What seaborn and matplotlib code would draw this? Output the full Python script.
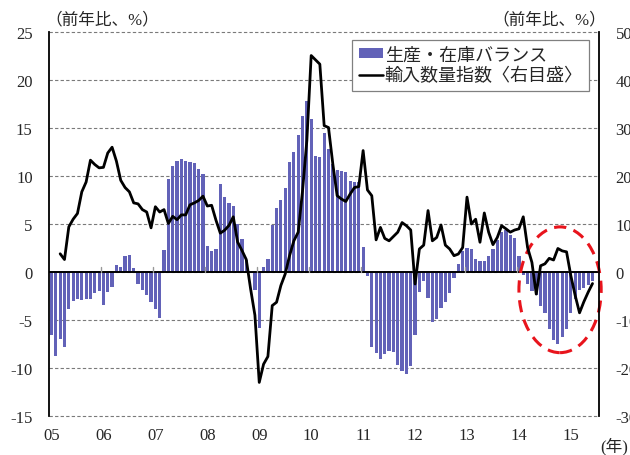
import numpy as np
import pandas as pd
import matplotlib
matplotlib.use("Agg")
import matplotlib.pyplot as plt
from matplotlib.patches import Patch, Ellipse
from matplotlib.lines import Line2D
import seaborn as sns

# ---------------- data ----------------
months = [f"{y}-{m:02d}" for y in range(2005, 2016) for m in range(1, 13)][:127]

balance = [
    -6.6, -8.75, -7.0, -7.8, -3.9, -3.0, -2.85, -2.9, -2.8, -2.8, -2.2, -2.0,      # 2005
    -3.45, -2.1, -1.6, 0.7, 0.5, 1.7, 1.8, 0.45, -1.2, -1.9, -2.4, -3.1,           # 2006
    -3.9, -4.75, 2.3, 9.7, 11.0, 11.6, 11.8, 11.6, 11.5, 11.4, 10.7, 10.2,          # 2007
    2.7, 2.2, 2.4, 9.2, 7.8, 7.2, 6.9, 5.0, 3.4, 1.3, 0.0, -1.9,                    # 2008
    -5.8, 0.5, 1.35, 4.9, 6.7, 7.5, 8.7, 11.5, 12.5, 14.3, 16.3, 17.8,              # 2009
    15.9, 12.1, 12.0, 14.5, 12.8, 11.3, 10.6, 10.5, 10.4, 9.5, 9.4, 9.4,            # 2010
    2.6, -0.4, -7.8, -8.4, -9.1, -8.5, -8.2, -8.3, -9.65, -10.35, -10.6, -9.8,      # 2011
    -6.6, -2.1, -0.9, -2.7, -5.2, -4.9, -3.75, -3.1, -2.2, -0.65, 0.8, 2.2,         # 2012
    2.5, 2.4, 1.4, 1.1, 1.1, 1.7, 2.4, 3.3, 4.2, 4.4, 3.9, 3.5,                     # 2013
    1.7, -0.3, -1.3, -2.0, -2.4, -3.5, -4.3, -5.9, -7.1, -7.5, -6.8, -5.9,          # 2014
    -4.3, -2.8, -1.9, -1.7, -1.4, -0.9, np.nan,                                     # 2015
]

imports = [
    np.nan, np.nan, 3.8, 2.6, 9.4, 11.0, 12.2, 16.7, 18.75, 23.3, 22.4, 21.7,      # 2005
    21.8, 24.8, 26.0, 23.1, 19.1, 17.6, 16.7, 14.4, 14.2, 13.0, 12.5, 9.2,          # 2006
    13.6, 12.5, 13.0, 10.1, 11.6, 10.9, 11.9, 11.9, 14.0, 14.4, 14.9, 15.8,         # 2007
    13.75, 13.9, 10.8, 8.1, 8.7, 9.7, 11.5, 6.25, 4.5, 2.6, -3.5, -9.0,             # 2008
    -23.0, -19.2, -17.6, -7.0, -6.3, -2.8, -0.4, 3.4, 6.5, 8.3, 16.9, 27.4,         # 2009
    45.1, 44.2, 43.3, 30.5, 30.1, 22.5, 15.9, 15.2, 14.7, 16.25, 17.6, 17.8,        # 2010
    25.3, 17.1, 15.9, 6.7, 9.3, 7.0, 6.5, 7.4, 8.3, 10.3, 9.65, 8.75,               # 2011
    -2.5, 4.8, 5.6, 12.8, 6.5, 7.2, 9.8, 5.6, 4.8, 3.4, 3.75, 5.1,                  # 2012
    15.6, 10.0, 11.0, 6.2, 12.3, 8.3, 5.7, 7.2, 9.65, 9.0, 8.3, 8.75,               # 2013
    9.0, 11.5, 5.1, 2.0, -4.6, 1.3, 1.7, 2.85, 2.5, 4.9, 4.4, 4.2,                  # 2014
    -0.8, -4.9, -8.5, -6.2, -4.2, -2.4, np.nan,                                     # 2015
]

year_labels = ["05", "06", "07", "08", "09", "10", "11", "12", "13", "14", "15"]
left_ticks = [-15, -10, -5, 0, 5, 10, 15, 20, 25]
right_ticks = [-30, -20, -10, 0, 10, 20, 30, 40, 50]

bar_name = "生産・在庫バランス"
line_name = "輸入数量指数〈右目盛〉"
unit_label = "（前年比、%）"

# ---------------- style ----------------
sns.set_style("white")
plt.rcParams["font.family"] = ["Liberation Serif", "Noto Sans CJK JP"]
plt.rcParams["axes.unicode_minus"] = False

BAR_COLOR = "#6262B8"
GRID_COLOR = "#7a7a7a"

fig = plt.figure(figsize=(6.3, 4.56), dpi=100)
ax = fig.add_axes([0.0783, 0.0855, 0.8725, 0.8421])

df = pd.DataFrame({"month": months, "balance": balance})
sns.barplot(data=df, x="month", y="balance", order=months, color=BAR_COLOR,
            saturation=1, width=0.74, errorbar=None, ax=ax, zorder=2,
            linewidth=0, edgecolor="none")

n = len(months)
ax.set_xlim(-0.5, n - 0.5)
ax.set_ylim(-15, 25)
ax.set_yticks(left_ticks)
ax.set_yticklabels([str(v) for v in left_ticks], fontsize=12)
ax.set_xticks(range(0, n, 12))
ax.set_xticklabels(year_labels, fontsize=12)
ax.tick_params(axis="y", length=0, pad=12)
ax.tick_params(axis="x", length=0, pad=8)
ax.set_xlabel("")
ax.set_ylabel("")

# grid
ax.yaxis.grid(True, color=GRID_COLOR, linestyle=(0, (3, 2)), linewidth=0.8, zorder=0)
ax.set_axisbelow(True)
for gl in ax.get_ygridlines():
    gl.set_clip_on(False)
ax.axhline(0, color="black", linewidth=1.4, zorder=3)

# small year boundary marks on zero line
for b in np.arange(11.5, n, 12):
    ax.plot([b, b], [0, 0.5], color="#999999", linewidth=1.0, zorder=3)

for s in ["top", "bottom", "right"]:
    ax.spines[s].set_visible(False)
ax.spines["left"].set_color("black")
ax.spines["left"].set_linewidth(1.3)

# right axis line
ax2 = ax.twinx()
sns.lineplot(x=np.arange(n), y=imports, ax=ax2, color="black", linewidth=2.0, zorder=4)
ax2.set_ylim(-30, 50)
ax2.set_yticks(right_ticks)
ax2.set_yticklabels([str(v) for v in right_ticks], fontsize=12)
ax2.tick_params(axis="y", length=0, pad=12)
ax2.set_ylabel("")
for s in ["top", "bottom", "left"]:
    ax2.spines[s].set_visible(False)
ax2.spines["right"].set_color("black")
ax2.spines["right"].set_linewidth(1.3)
ax2.set_xlim(-0.5, n - 0.5)

# red dashed ellipse highlight
ell = Ellipse((117.5, -1.85), width=19.0, height=13.1, fill=False, edgecolor="#e8141c",
              linestyle=(0, (4, 2.5)), linewidth=2.2, clip_on=False, zorder=5)
ax.add_patch(ell)

# legend
handles = [Patch(facecolor=BAR_COLOR, edgecolor="none"),
           Line2D([0], [0], color="black", linewidth=1.8)]
leg = fig.legend(handles, [bar_name, line_name], loc="upper right",
                 bbox_to_anchor=(589 / 630, 1 - 41 / 456), fontsize=13,
                 frameon=True, fancybox=False, framealpha=1, edgecolor="#808080",
                 handlelength=1.35, handleheight=0.45, handletextpad=0.1,
                 labelspacing=0.2, borderpad=0.35, borderaxespad=0)
leg.get_frame().set_linewidth(0.9)

# texts
fig.text(45 / 630, 1 - 20 / 456, unit_label, fontsize=12, ha="left", va="center")
fig.text(606 / 630, 1 - 20 / 456, unit_label, fontsize=12, ha="right", va="center")
fig.text(628 / 630, 1 - 447 / 456, "(年)", fontsize=12, ha="right", va="center")

fig.savefig("out.png", dpi=100)
